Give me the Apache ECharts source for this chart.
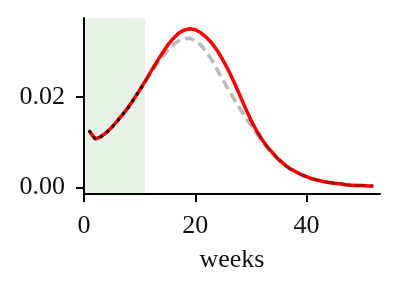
<!DOCTYPE html>
<html>
<head>
<meta charset="utf-8">
<script src="https://cdn.jsdelivr.net/npm/echarts@6/dist/echarts.min.js"></script>
<style>
html,body{margin:0;padding:0;background:#fff;}
#chart{width:398px;height:290px;}
</style>
</head>
<body>
<div id="chart"></div>
<script>
var weeks = [];
for (var i = 1; i <= 52; i++) weeks.push(i);

var modelRed = [
  0.0124, 0.0107, 0.0112, 0.0121, 0.0133, 0.0147, 0.0162, 0.0178, 0.0196, 0.0215,
  0.0235, 0.0256, 0.0276, 0.0296, 0.0314, 0.0329, 0.0341, 0.0348, 0.0351, 0.0349,
  0.0342, 0.0332, 0.0319, 0.0302, 0.0281, 0.0258, 0.0232, 0.0204, 0.0176, 0.0149,
  0.0126, 0.0106, 0.0089, 0.0075, 0.0062, 0.0051, 0.0042, 0.0035, 0.0029, 0.0024,
  0.0019, 0.0016, 0.0013, 0.0011, 0.0009, 0.0008, 0.0006, 0.0005, 0.0004, 0.0004,
  0.0003, 0.0003
];

var grayWeeks = [];
for (var j = 11; j <= 52; j++) grayWeeks.push(j);
var modelGray = [
  0.0233, 0.0252, 0.0270, 0.0287, 0.0302, 0.0315, 0.0324, 0.0329, 0.0330, 0.0325,
  0.0315, 0.0300, 0.0281, 0.0259, 0.0237, 0.0216, 0.0195, 0.0175, 0.0156, 0.0138,
  0.0120, 0.0102, 0.0086, 0.0072, 0.0060, 0.0049, 0.0040, 0.0033, 0.0028, 0.0023,
  0.0019, 0.0016, 0.0013, 0.0011, 0.0009, 0.0008, 0.0006, 0.0005, 0.0004, 0.0004,
  0.0003, 0.0003
];

var observedWeeks = [1, 2, 3, 4, 5, 6, 7, 8, 9, 10, 11];
var observed = [0.0124, 0.0107, 0.0112, 0.0121, 0.0133, 0.0147, 0.0162, 0.0178, 0.0196, 0.0215, 0.0235];

var shadeStart = 0, shadeEnd = 11;
var xTicks = [0, 20, 40];
var yTicks = [0, 0.02];

function pairs(xs, ys) { return xs.map(function (x, i) { return [x, ys[i]]; }); }

var font = 'Liberation Serif';
var chart = echarts.init(document.getElementById('chart'), null, {renderer: 'canvas'});
chart.setOption({
  animation: false,
  backgroundColor: '#fff',
  grid: {left: 84, right: 18, top: 18, bottom: 96, containLabel: false},
  xAxis: {
    type: 'value', min: 0, max: 53.2,
    name: 'weeks', nameLocation: 'middle', nameGap: 53,
    nameTextStyle: {fontFamily: font, fontSize: 26, color: '#111'},
    axisLine: {show: true, onZero: false, lineStyle: {color: '#000', width: 2}},
    axisTick: {show: true, length: 8, lineStyle: {color: '#000', width: 2}, customValues: xTicks},
    axisLabel: {fontFamily: font, fontSize: 26, color: '#111', margin: 19, customValues: xTicks,
      formatter: function (v) { return String(v); }},
    splitLine: {show: false}
  },
  yAxis: {
    type: 'value', min: -0.00146, max: 0.03748,
    axisLine: {show: true, onZero: false, lineStyle: {color: '#000', width: 2}},
    axisTick: {show: true, length: 8, lineStyle: {color: '#000', width: 2}, customValues: yTicks},
    axisLabel: {fontFamily: font, fontSize: 26, color: '#111', margin: 19, customValues: yTicks,
      formatter: function (v) { return v.toFixed(2); }},
    splitLine: {show: false}
  },
  series: [
    {
      type: 'line', data: pairs(weeks, modelRed), showSymbol: false, symbol: 'none',
      lineStyle: {color: '#ff0000', width: 3.5},
      z: 2,
      markArea: {
        silent: true,
        itemStyle: {color: 'rgba(0,128,0,0.1)'},
        data: [[{xAxis: shadeStart}, {xAxis: shadeEnd}]]
      }
    },
    {
      type: 'line', data: pairs(grayWeeks, modelGray), showSymbol: false, symbol: 'none',
      lineStyle: {color: 'rgba(0,0,0,0.27)', width: 3.5, type: [10, 5]},
      z: 3
    },
    {
      type: 'line', data: pairs(observedWeeks, observed), showSymbol: false, symbol: 'none',
      lineStyle: {color: 'rgba(0,0,0,0.85)', width: 3.5, type: [0.5, 7.5], cap: 'round'},
      z: 4
    }
  ]
});
</script>
</body>
</html>
